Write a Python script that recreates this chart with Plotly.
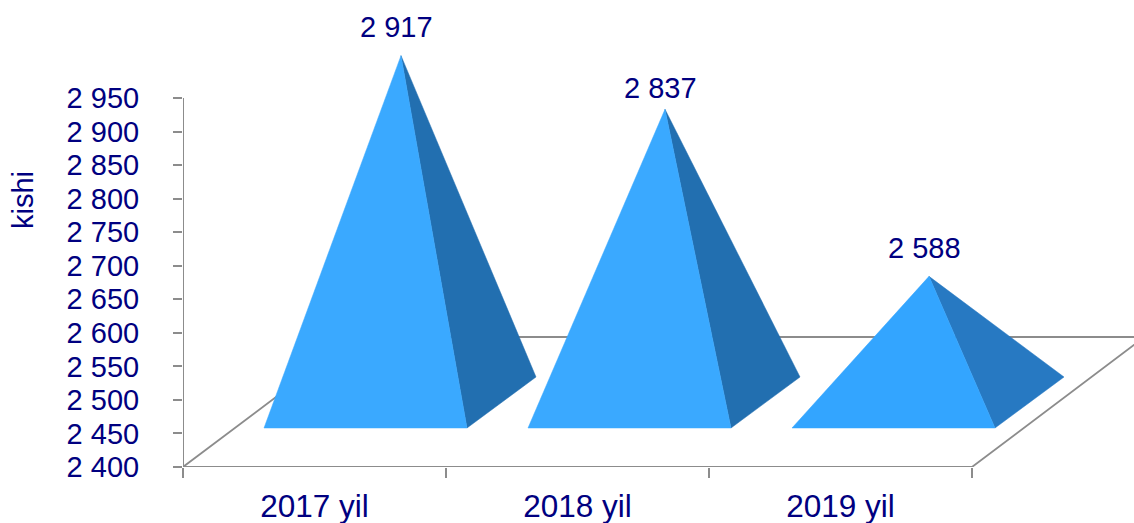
import plotly.graph_objects as go

categories = ["2017 yil", "2018 yil", "2019 yil"]
values = [2917, 2837, 2588]
value_labels = ["2 917", "2 837", "2 588"]
y_ticks = [2400, 2450, 2500, 2550, 2600, 2650, 2700, 2750, 2800, 2850, 2900, 2950]
y_tick_labels = ["2 400", "2 450", "2 500", "2 550", "2 600", "2 650", "2 700", "2 750", "2 800", "2 850", "2 900", "2 950"]
x_boundaries = [0, 1, 2, 3]
side_colors = ["#226FB0", "#226FB0", "#2779C2"]
front_colors = ["#3AA9FF", "#3AA9FF", "#33A5FF"]
label_lift = [11, 3, 10]

NAVY = "#000080"
GRAY = "#8C8C8C"
FONT = "Liberation Sans"
FS = 29

# oblique projection, expressed in axis units
PX_CAT = 263.0
PX_UNIT = 369.0 / 550.0
DEPTH_X = 172.6 / PX_CAT
DEPTH_Y = 130.0 / PX_UNIT
LEFT_GAP = 81.0 / PX_CAT
PITCH = 264.0 / PX_CAT
WIDTH = 203.0 / PX_CAT
BASE_FRONT_Y = 2400 + 39.0 / PX_UNIT
BASE_BACK_Y = 2400 + 90.0 / PX_UNIT
BACK_DX = 69.0 / PX_CAT
APEX_DX = 35.5 / PX_CAT
APEX_DY = 64.5 / PX_UNIT

fig = go.Figure()

# floor
fig.add_trace(go.Scatter(
    x=[0, DEPTH_X, 3 + DEPTH_X, 3],
    y=[2400, 2400 + DEPTH_Y, 2400 + DEPTH_Y, 2400],
    mode="lines", line=dict(color=GRAY, width=1.8), hoverinfo="skip", showlegend=False))
# axis lines
fig.add_trace(go.Scatter(x=[0, 3], y=[2400, 2400], mode="lines",
                         line=dict(color=GRAY, width=2), hoverinfo="skip", showlegend=False))
fig.add_trace(go.Scatter(x=[0, 0], y=[2400, y_ticks[-1]], mode="lines",
                         line=dict(color=GRAY, width=2), hoverinfo="skip", showlegend=False))

annotations = []
for i, (cat, v) in enumerate(zip(categories, values)):
    x0 = i * PITCH + LEFT_GAP
    x1 = x0 + WIDTH
    ax = x0 + WIDTH / 2 + APEX_DX
    ay = v + APEX_DY
    fig.add_trace(go.Scatter(
        x=[x1, x1 + BACK_DX, ax, x1], y=[BASE_FRONT_Y, BASE_BACK_Y, ay, BASE_FRONT_Y],
        mode="lines", fill="toself", fillcolor=side_colors[i],
        line=dict(width=0.5, color=side_colors[i]), name=cat, hoverinfo="skip", showlegend=False))
    fig.add_trace(go.Scatter(
        x=[x0, x1, ax, x0], y=[BASE_FRONT_Y, BASE_FRONT_Y, ay, BASE_FRONT_Y],
        mode="lines", fill="toself", fillcolor=front_colors[i],
        line=dict(width=0.5, color=front_colors[i]), name=cat, hoverinfo="skip", showlegend=False))
    annotations.append(dict(x=ax, y=ay, xref="x", yref="y", text=value_labels[i], showarrow=False,
                            yanchor="bottom", xanchor="center", xshift=-5, yshift=label_lift[i],
                            font=dict(family=FONT, size=FS, color=NAVY)))

annotations.append(dict(text="kishi", showarrow=False, textangle=-90,
                        font=dict(family=FONT, size=FS, color=NAVY),
                        xref="x domain", yref="y domain", x=(23 - 183) / 951.0, y=(467 - 200) / 467.0,
                        xanchor="center", yanchor="middle"))

fig.update_layout(
    width=1134, height=523, margin=dict(l=183, r=0, t=0, b=56),
    paper_bgcolor="white", plot_bgcolor="white", showlegend=False,
    font=dict(family=FONT, size=FS, color=NAVY),
    annotations=annotations,
    xaxis=dict(range=[0, 951.0 / PX_CAT], showgrid=False, zeroline=False, showline=False,
               automargin=False,
               tickmode="array", tickvals=[i + 0.5 for i in range(3)], ticktext=categories,
               ticks="", ticklabelstandoff=17, tickfont=dict(family=FONT, size=31.5, color=NAVY),
               minor=dict(tickmode="array", tickvals=x_boundaries, ticks="outside", ticklen=10,
                          tickwidth=2, tickcolor=GRAY, showgrid=False),
               fixedrange=True),
    yaxis=dict(range=[2400, 2400 + 467.0 / PX_UNIT], showgrid=False, zeroline=False, showline=False,
               automargin=False,
               tickmode="array", tickvals=y_ticks, ticktext=y_tick_labels,
               ticks="outside", ticklen=9, tickwidth=2, tickcolor=GRAY, ticklabelstandoff=28,
               fixedrange=True),
)

fig.write_html("out.html", config={"displayModeBar": False},
               post_script="document.body.style.margin='0';")
